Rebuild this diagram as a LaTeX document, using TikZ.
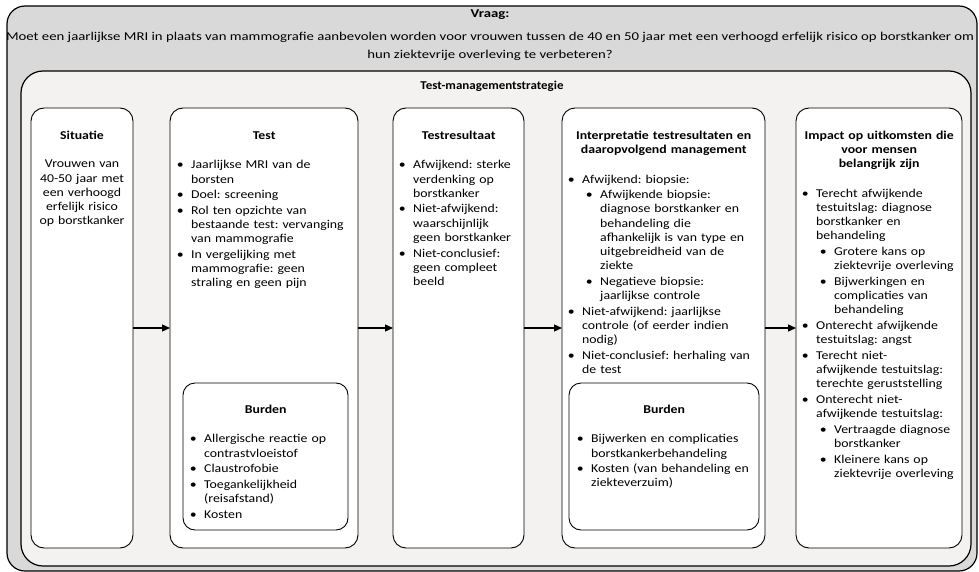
\documentclass[tikz,border=0pt]{standalone}
\usepackage{fontspec}
\setmainfont{Carlito}[FakeStretch=1.15]
\newfontfamily\questionfont{Carlito}[FakeStretch=1.23]
\newfontfamily\titlefont{Carlito}[FakeStretch=1.08]
\usepackage{enumitem}
\usetikzlibrary{arrows.meta}

\definecolor{outergray}{HTML}{D9D9D9}
\definecolor{innergray}{HTML}{F3F2F1}

% bullet lists used inside the boxes
\setlist[itemize,1]{label=\makebox[6pt]{\textbullet}, labelwidth=6pt, labelsep=8pt,
  leftmargin=14pt, align=left, topsep=0pt, partopsep=0pt, itemsep=1.5pt, parsep=0pt}
\setlist[itemize,2]{label=\makebox[6pt]{\textbullet}, labelwidth=6pt, labelsep=8pt,
  leftmargin=18pt, align=left, topsep=1.5pt, partopsep=0pt, itemsep=1.5pt, parsep=0pt}

\newcommand{\boxhead}[1]{{\centering\bfseries\strut #1\par}\vspace{15.5pt}}

\tikzset{
  panel/.style={draw=black, line width=1.2pt, rounded corners=#1, anchor=north west,
    inner sep=0pt, outer sep=0pt},
  colbox/.style={draw=black, line width=0.9pt, fill=white, rounded corners=13pt,
    anchor=north west, inner sep=0pt, outer sep=0pt},
  subbox/.style={colbox, rounded corners=12pt},
  txt/.style={anchor=north west, inner sep=0pt, align=left,
    font=\fontsize{12}{14.2}\selectfont\frenchspacing},
  ctxt/.style={anchor=north, inner sep=0pt, align=center,
    font=\fontsize{12}{14.2}\selectfont\frenchspacing},
  line/.style={anchor=base, inner sep=0pt, font=\fontsize{12}{14.2}\selectfont\frenchspacing},
  arr/.style={-{Triangle[length=8pt,width=7pt]}, line width=1.3pt},
}

\begin{document}
\begin{tikzpicture}[x=1pt, y=-1pt]
\useasboundingbox (0,0) rectangle (979,572);

% outer question panel and inner strategy panel
\node[panel=18pt, fill=outergray, minimum width=970pt, minimum height=565pt] (outer) at (7,6) {};
\node[panel=22pt, fill=innergray, minimum width=950pt, minimum height=495pt] (inner) at (21,71) {};

\node[line, font=\fontsize{12}{14.2}\questionfont\bfseries] (qhead) at (490,18) {Vraag:};
\node[line, font=\fontsize{12}{14.2}\questionfont\frenchspacing] (qline1) at (490,41)
  {Moet een jaarlijkse MRI in plaats van mammografie aanbevolen worden voor vrouwen tussen de 40 en 50 jaar met een verhoogd erfelijk risico op borstkanker om};
\node[line, font=\fontsize{12}{14.2}\questionfont\frenchspacing] (qline2) at (490,59)
  {hun ziektevrije overleving te verbeteren?};
\node[line, font=\fontsize{12}{14.2}\titlefont\bfseries] (strategy) at (492,90) {Test-managementstrategie};

% column boxes
\node[colbox, minimum width=102pt, minimum height=440pt] (sit) at (31,108) {};
\node[colbox, minimum width=188pt, minimum height=440pt] (test) at (170,108) {};
\node[subbox, minimum width=165pt, minimum height=147pt] (tburden) at (183,383) {};
\node[colbox, minimum width=131pt, minimum height=440pt] (res) at (393,108) {};
\node[colbox, minimum width=203pt, minimum height=440pt] (interp) at (562,108) {};
\node[subbox, minimum width=190pt, minimum height=147pt] (iburden) at (569,383) {};
\node[colbox, minimum width=166pt, minimum height=440pt] (impact) at (796,108) {};

% box contents
\node[ctxt, text width=100pt] (sittext) at (82,129) {\strut\textbf{Situatie}\\[14.5pt]
  Vrouwen van\\40-50 jaar met\\een verhoogd\\erfelijk risico\\op borstkanker};

\node[txt, text width=174pt] (testtext) at (177,129) {\boxhead{Test}
  \begin{itemize}
  \item Jaarlijkse MRI van de\\borsten
  \item Doel: screening
  \item Rol ten opzichte van\\bestaande test: vervanging\\van mammografie
  \item In vergelijking met\\mammografie: geen\\straling en geen pijn
  \end{itemize}};

\node[txt, text width=151pt] (tburdentext) at (190,403) {\boxhead{Burden}
  \begin{itemize}
  \item Allergische reactie op\\contrastvloeistof
  \item Claustrofobie
  \item Toegankelijkheid\\(reisafstand)
  \item Kosten
  \end{itemize}};

\node[txt, text width=119pt] (restext) at (399,129) {\boxhead{Testresultaat}
  \begin{itemize}
  \item Afwijkend: sterke\\verdenking op\\borstkanker
  \item Niet-afwijkend:\\waarschijnlijk\\geen borstkanker
  \item Niet-conclusief:\\geen compleet\\beeld
  \end{itemize}};

\node[txt, text width=191pt] (interptext) at (568,129) {\boxhead{Interpretatie testresultaten en\\daaropvolgend management}
  \begin{itemize}
  \item Afwijkend: biopsie:
    \begin{itemize}
    \item Afwijkende biopsie:\\diagnose borstkanker en\\behandeling die\\afhankelijk is van type en\\uitgebreidheid van de\\ziekte
    \item Negatieve biopsie:\\jaarlijkse controle
    \end{itemize}
  \item Niet-afwijkend: jaarlijkse\\controle (of eerder indien\\nodig)
  \item Niet-conclusief: herhaling van\\de test
  \end{itemize}};

\node[txt, text width=174pt] (iburdentext) at (577,403) {\boxhead{Burden}
  \begin{itemize}
  \item Bijwerken en complicaties\\borstkankerbehandeling
  \item Kosten (van behandeling en\\ziekteverzuim)
  \end{itemize}};

\node[txt, text width=154pt] (impacttext) at (802,129) {\boxhead{Impact op uitkomsten die\\voor mensen\\belangrijk zijn}
  \begin{itemize}
  \item Terecht afwijkende\\testuitslag: diagnose\\borstkanker en\\behandeling
    \begin{itemize}
    \item Grotere kans op\\ziektevrije overleving
    \item Bijwerkingen en\\complicaties van\\behandeling
    \end{itemize}
  \item Onterecht afwijkende\\testuitslag: angst
  \item Terecht niet-\\afwijkende testuitslag:\\terechte geruststelling
  \item Onterecht niet-\\afwijkende testuitslag:
    \begin{itemize}
    \item Vertraagde diagnose\\borstkanker
    \item Kleinere kans op\\ziektevrije overleving
    \end{itemize}
  \end{itemize}};

% flow between the steps
\draw[arr] (sit.east) -- (test.west);
\draw[arr] (test.east) -- (res.west);
\draw[arr] (res.east) -- (interp.west);
\draw[arr] (interp.east) -- (impact.west);
\end{tikzpicture}
\end{document}
